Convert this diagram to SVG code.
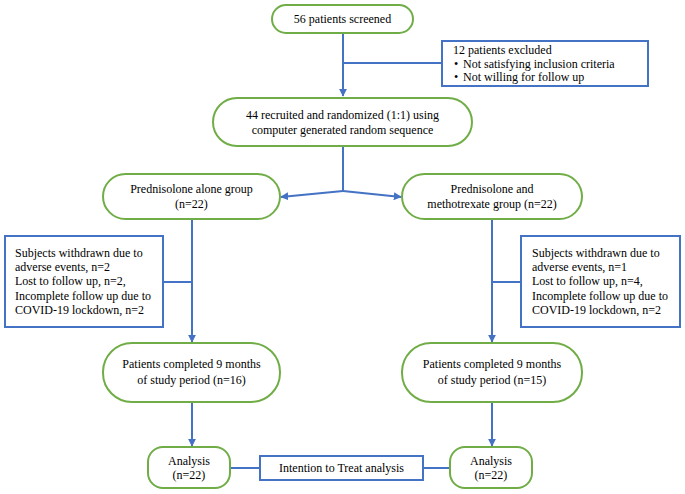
<svg xmlns="http://www.w3.org/2000/svg" width="685" height="494" viewBox="0 0 685 494">
<defs>
<style>
text{font-family:"Liberation Serif","Times New Roman",serif;font-size:12px;fill:#000}
.c{text-anchor:middle}
.n{fill:#fff;stroke:#70AD47;stroke-width:2}
.b{fill:#fff;stroke:#4472C4;stroke-width:2}
.l{fill:none;stroke:#4472C4;stroke-width:2}
.a{marker-end:url(#ah)}
</style>
<marker id="ah" viewBox="0 0 10 10" refX="9" refY="5" markerWidth="4" markerHeight="4" orient="auto" markerUnits="strokeWidth">
<path d="M0,0 L10,5 L0,10 z" fill="#4472C4"/>
</marker>
</defs>
<rect width="685" height="494" fill="#fff"/>
<g id="connectors">
<path class="l a" d="M343,33 V96"/>
<path class="l" d="M343,63 H442"/>
<path class="l" d="M343,146 V191"/>
<path class="l a" d="M343,191 L281,197"/>
<path class="l a" d="M343,191 L401,197"/>
<path class="l a" d="M192,219 V342"/>
<path class="l" d="M163,282 H192"/>
<path class="l a" d="M492,219 V342"/>
<path class="l" d="M492,282 H521"/>
<path class="l a" d="M192,402 V446"/>
<path class="l a" d="M492,402 V446"/>
<path class="l" d="M230,468 H260"/>
<path class="l" d="M423,468 H450"/>
</g>
<g id="screened">
<rect class="n" x="272" y="5" width="141" height="28" rx="14"/>
<text class="c" x="342.5" y="23">56 patients screened</text>
</g>
<g id="excluded">
<rect class="b" x="442" y="41" width="206" height="45"/>
<text x="453" y="54">12 patients excluded</text>
<text x="454" y="68">•</text><text x="463" y="68">Not satisfying inclusion criteria</text>
<text x="454" y="81">•</text><text x="463" y="81">Not willing for follow up</text>
</g>
<g id="randomized">
<rect class="n" x="213" y="98" width="259" height="48" rx="24"/>
<text class="c" x="342.5" y="119">44 recruited and randomized (1:1) using</text>
<text class="c" x="342.5" y="134">computer generated random sequence</text>
</g>
<g id="pred-alone">
<rect class="n" x="103" y="174" width="177" height="45" rx="22.5"/>
<text class="c" x="191.5" y="193">Prednisolone alone group</text>
<text class="c" x="191.5" y="208">(n=22)</text>
</g>
<g id="pred-mtx">
<rect class="n" x="402" y="174" width="180" height="45" rx="22.5"/>
<text class="c" x="492" y="193">Prednisolone  and</text>
<text class="c" x="492" y="208">methotrexate group (n=22)</text>
</g>
<g id="withdrawn-left">
<rect class="b" x="5" y="236" width="158" height="91"/>
<text x="15" y="257">Subjects withdrawn due to</text>
<text x="15" y="271">adverse events, n=2</text>
<text x="15" y="285">Lost to follow up, n=2,</text>
<text x="15" y="300">Incomplete follow up due to</text>
<text x="15" y="314">COVID-19 lockdown, n=2</text>
</g>
<g id="withdrawn-right">
<rect class="b" x="521" y="236" width="159" height="91"/>
<text x="532" y="257">Subjects withdrawn due to</text>
<text x="532" y="271">adverse events, n=1</text>
<text x="532" y="285">Lost to follow up, n=4,</text>
<text x="532" y="300">Incomplete follow up due to</text>
<text x="532" y="314">COVID-19 lockdown, n=2</text>
</g>
<g id="completed-left">
<rect class="n" x="103" y="343" width="177" height="59" rx="29"/>
<text class="c" x="191.5" y="368">Patients completed 9 months</text>
<text class="c" x="191.5" y="384">of study period (n=16)</text>
</g>
<g id="completed-right">
<rect class="n" x="402" y="343" width="180" height="59" rx="29"/>
<text class="c" x="492" y="368">Patients completed 9 months</text>
<text class="c" x="492" y="384">of study period (n=15)</text>
</g>
<g id="analysis-left">
<rect class="n" x="148" y="447" width="82" height="41" rx="15"/>
<text class="c" x="189" y="465">Analysis</text>
<text class="c" x="189" y="479">(n=22)</text>
</g>
<g id="itt">
<rect class="b" x="260" y="456" width="163" height="24"/>
<text class="c" x="341.5" y="472">Intention to Treat analysis</text>
</g>
<g id="analysis-right">
<rect class="n" x="450" y="447" width="82" height="41" rx="15"/>
<text class="c" x="491" y="465">Analysis</text>
<text class="c" x="491" y="479">(n=22)</text>
</g>
</svg>
